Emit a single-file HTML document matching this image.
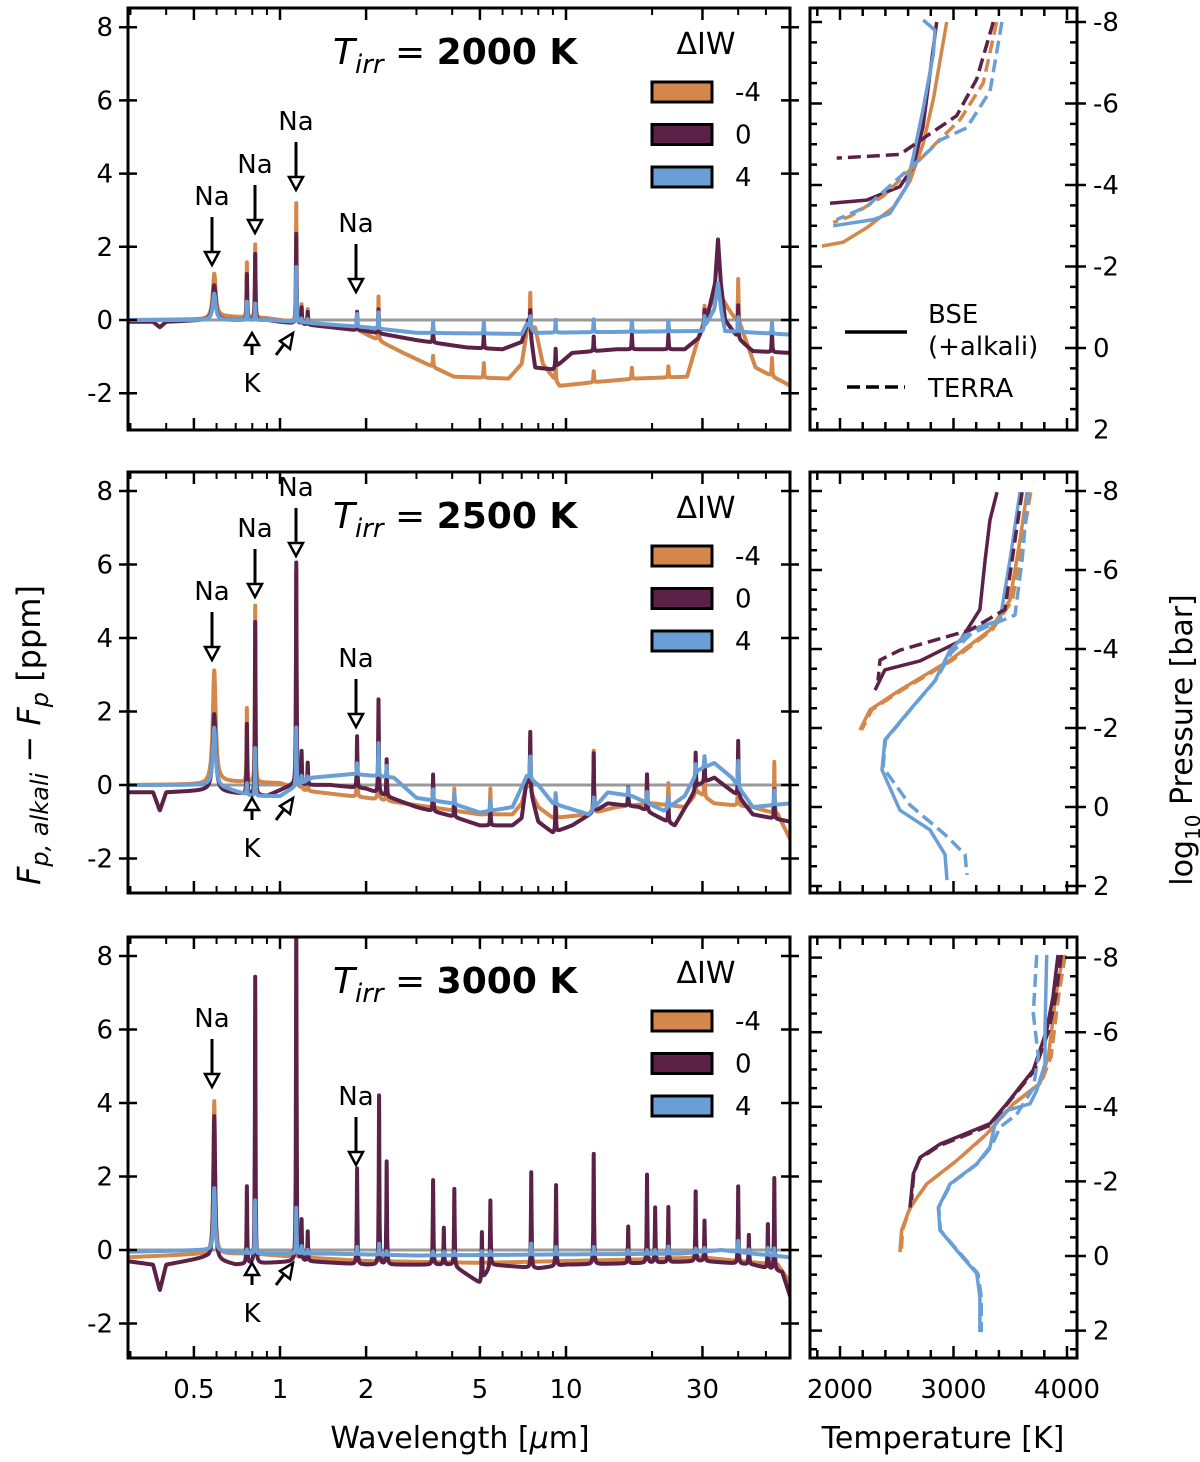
<!DOCTYPE html>
<html><head><meta charset="utf-8">
<style>
html,body{margin:0;padding:0;background:#fff;}
svg{display:block;font-family:"DejaVu Sans","Liberation Sans",sans-serif;}
</style></head>
<body>
<svg id="fig" width="1200" height="1462" viewBox="0 0 1200 1462" xmlns="http://www.w3.org/2000/svg">
<defs>
<clipPath id="cl0"><rect x="128" y="8" width="662" height="422"/></clipPath>
<clipPath id="cl1"><rect x="128" y="472" width="662" height="421"/></clipPath>
<clipPath id="cl2"><rect x="128" y="937" width="662" height="421"/></clipPath>
<clipPath id="cr0"><rect x="810" y="8" width="267" height="422"/></clipPath>
<clipPath id="cr1"><rect x="810" y="472" width="267" height="421"/></clipPath>
<clipPath id="cr2"><rect x="810" y="937" width="267" height="421"/></clipPath>
</defs>
<g id="root"></g>
<text x="460" y="1448" font-size="30" text-anchor="middle">Wavelength [<tspan font-style="italic">μ</tspan>m]</text>
<text x="943" y="1448" font-size="30" text-anchor="middle">Temperature [K]</text>
<text transform="translate(40,735) rotate(-90)" font-size="32" text-anchor="middle"><tspan font-style="italic">F</tspan><tspan font-style="italic" font-size="24" dy="8">p, alkali</tspan><tspan dy="-8"> − </tspan><tspan font-style="italic">F</tspan><tspan font-style="italic" font-size="24" dy="8">p</tspan><tspan dy="-8">  [ppm]</tspan></text>
<text transform="translate(1192,740) rotate(-90)" font-size="30" text-anchor="middle">log<tspan font-size="20" dy="8">10</tspan><tspan dy="-8"> Pressure [bar]</tspan></text>
</svg>
<script>
// ---------------- DATA ----------------
const panelTitles = ["2000 K", "2500 K", "3000 K"];
const legendLevels = ["-4", "0", "4"];
const yTicksL = [-2, 0, 2, 4, 6, 8];
const xTickMajor = [0.5, 1, 2, 5, 10, 30];
const xTickLabels = ["0.5", "1", "2", "5", "10", "30"];
const xTickMinor = [0.3,0.4,0.6,0.7,0.8,0.9,3,4,6,7,8,9,20,40,50];
const pTicks = [-8, -6, -4, -2, 0, 2];
const tTicks = [2000, 3000, 4000];

// Panel 1 (2000 K)
const p1SpikeWl = [0.589,0.766,0.819,1.14,1.19,1.25,1.86,2.21,3.43,5.16,7.5,9.2,12.5,17.0,22.8,30.5,40,52.5];
const p1SpikeOrange = [1.2,1.5,2.0,3.25,0.5,0.4,0.5,1.2,0.3,0.4,1.0,0.4,0.3,0.3,0.3,0.4,1.2,0.5];
const p1SpikePurple = [0.95,1.25,1.8,2.45,0.45,0.35,0.5,0.65,0.4,0.4,0.6,0.5,0.4,0.4,0.4,0.4,0.9,0.6];
const p1SpikeBlue = [0.72,0.5,0.45,1.5,0.1,0.1,0.35,0.45,0.3,0.3,0.3,0.35,0.35,0.3,0.3,0.3,0.4,0.3];
const p1ContOrange = [[0.29,0],[0.55,0.02],[0.62,0.1],[0.9,0.05],[1.0,0],[1.9,-0.3],[2.7,-0.9],[4.06,-1.55],[6.3,-1.6],[7.0,-1.2],[7.3,-0.3],[7.8,-0.2],[8.3,-1.2],[9.5,-1.8],[12.5,-1.7],[17.5,-1.6],[26.5,-1.55],[29,-0.5],[31.5,0.3],[34,0.8],[37,0.3],[41,-0.2],[46,-1.3],[61,-1.8]];
const p1ContPurple = [[0.29,-0.05],[0.36,-0.05],[0.38,-0.2],[0.40,-0.05],[0.55,0],[0.9,0],[1.0,-0.05],[2,-0.3],[3,-0.55],[4.5,-0.75],[6,-0.8],[7.0,-0.6],[7.4,0],[7.8,-1.3],[9,-1.35],[10.5,-0.9],[15,-0.8],[26,-0.8],[29,-0.5],[31,0],[33.2,1.0],[34,2.2],[34.8,1.0],[36,0],[40,-0.5],[45,-0.85],[61,-0.9]];
const p1ContBlue = [[0.29,0],[0.9,0],[1,-0.02],[2,-0.2],[3,-0.35],[7,-0.38],[7.3,-0.1],[7.8,-0.35],[30,-0.3],[33,0.3],[34,1.0],[35,0.2],[36,-0.3],[61,-0.4]];

// Panel 2 (2500 K)
const p2SpikeWl = [0.589,0.766,0.819,1.14,1.19,1.25,1.86,2.21,2.36,3.43,4.07,5.44,7.5,9.2,12.5,16.5,19.2,22.8,28.4,30.5,40,53.5];
const p2SpikeOrange = [3.05,2.0,4.8,5.9,0.7,0.4,1.2,2.4,0.9,0.7,0.6,0.7,1.5,0.6,1.7,0.3,0.8,0.6,0.8,0.7,1.2,1.4];
const p2SpikePurple = [2.1,1.9,4.7,6.05,0.9,0.6,1.4,2.55,1.0,1.0,0.6,0.6,1.6,1.0,1.6,0.5,1.0,0.6,1.0,0.7,1.5,0.8];
const p2SpikeBlue = [1.6,0.3,1.3,1.6,0.2,0.1,0.3,0.9,0.3,0.3,0.3,0.3,0.6,0.3,0.3,0.2,0.3,0.3,0.3,0.3,0.7,0.4];
const p2ContOrange = [[0.29,0],[0.55,0.02],[0.62,0.1],[1.0,0.05],[1.2,-0.15],[2,-0.35],[3,-0.55],[5,-0.8],[6.5,-0.8],[7.0,-0.5],[7.3,0],[8,-0.6],[9,-0.9],[12,-0.8],[15,-0.6],[20,-0.5],[26,-0.6],[29,-0.2],[33,-0.5],[45,-0.6],[55,-0.8],[61,-1.5]];
const p2ContPurple = [[0.29,-0.2],[0.36,-0.2],[0.38,-0.7],[0.40,-0.2],[0.55,-0.15],[0.65,-0.2],[0.9,-0.3],[1.1,0],[1.5,0],[2,-0.1],[3,-0.6],[4,-0.85],[5,-1.1],[6.5,-1.1],[7,-0.9],[7.3,0.2],[8,-1.0],[9,-1.3],[10.5,-1.1],[14,-0.5],[18,-0.6],[24,-1.1],[29,0],[33,0.2],[40,-0.3],[45,-0.8],[61,-1.0]];
const p2ContBlue = [[0.29,0],[0.55,0],[0.65,-0.1],[0.8,-0.3],[1.0,-0.3],[1.1,-0.1],[1.3,0.2],[1.8,0.3],[2.5,0.2],[3,-0.35],[4,-0.5],[5,-0.75],[6.5,-0.6],[7.3,0.25],[8,0],[9,-0.5],[12,-0.8],[14,-0.2],[17,-0.3],[22,-0.7],[26,-0.3],[29,0.4],[33,0.6],[38,0.2],[45,-0.6],[61,-0.5]];

// Panel 3 (3000 K)
const p3SpikeWl = [0.589,0.766,0.819,1.14,1.19,1.25,1.86,2.22,2.36,3.43,3.74,4.07,5.08,5.44,7.56,9.23,12.5,16.5,19.2,20.5,22.8,28.4,30.5,40,43.6,50.8,53.5];
const p3SpikeOrange = [4.15,0.3,0.5,0.5,0.3,0.2,0.2,0.3,0.3,0.2,0.2,0.2,0.2,0.2,0.4,0.3,0.3,0.2,0.3,0.3,0.5,0.3,0.3,0.4,0.3,0.3,0.6];
const p3SpikePurple = [3.9,2.1,7.8,9.5,1.1,0.8,2.6,4.6,2.8,2.3,1.0,2.1,1.3,1.8,2.6,2.2,3.0,1.0,2.4,1.5,1.5,1.9,1.1,2.1,0.8,1.2,2.5];
const p3SpikeBlue = [1.7,0.1,1.45,1.25,0.2,0.1,0.2,0.3,0.1,0.1,0.1,0.1,0.1,0.1,0.3,0.2,0.2,0.1,0.1,0.1,0.2,0.1,0.1,0.3,0.1,0.2,0.2];
const p3ContOrange = [[0.29,-0.2],[0.55,-0.1],[0.8,-0.1],[1.2,-0.2],[2,-0.3],[5,-0.35],[10,-0.3],[20,-0.25],[30,-0.2],[40,-0.3],[55,-0.4],[61,-0.9]];
const p3ContPurple = [[0.29,-0.3],[0.36,-0.4],[0.38,-1.1],[0.40,-0.4],[0.55,-0.2],[0.7,-0.4],[1.2,-0.3],[2,-0.4],[4,-0.4],[5,-0.9],[5.5,-0.4],[8,-0.5],[10,-0.4],[20,-0.35],[30,-0.3],[45,-0.4],[57,-0.6],[61,-1.3]];
const p3ContBlue = [[0.29,-0.05],[0.55,0],[0.8,-0.1],[1.5,-0.1],[3,-0.15],[10,-0.12],[25,-0.1],[35,0],[45,-0.1],[61,-0.2]];

// P-T profiles: [T (K), log10 P (bar)]
const pt1PurpleSolid = [[2852,-8],[2731,-5.43],[2645,-4.45],[2528,-3.96],[2235,-3.63],[1912,-3.55]];
const pt1OrangeSolid = [[2940,-8],[2822,-6.1],[2731,-5.0],[2617,-4.1],[2470,-3.45],[2235,-2.95],[2029,-2.6],[1840,-2.5]];
const pt1BlueSolid = [[2733,-8.05],[2837,-7.8],[2822,-7.2],[2731,-5.85],[2646,-4.7],[2587,-3.96],[2440,-3.3],[2293,-3.15],[1940,-3.0]];
const pt1PurpleDash = [[3351,-8],[3204,-6.6],[3028,-5.7],[2763,-5.2],[2528,-4.75],[1971,-4.66]];
const pt1OrangeDash = [[3381,-8],[3262,-6.5],[3057,-5.6],[2822,-4.96],[2617,-4.37],[2382,-3.73],[2088,-3.23],[1940,-3.08]];
const pt1BlueDash = [[3426,-8],[3322,-6.3],[3116,-5.4],[2881,-5.1],[2731,-4.7],[2528,-4.2],[2235,-3.47],[1971,-3.15]];

const pt2PurpleSolid = [[3383,-7.97],[3322,-7.27],[3278,-6.25],[3233,-5.0],[3057,-4.2],[2705,-3.7],[2396,-3.47],[2308,-2.96]];
const pt2PurpleDash = [[3604,-7.97],[3542,-6.76],[3454,-5.0],[3145,-4.48],[2528,-3.97],[2352,-3.72],[2335,-3.2]];
const pt2OrangeSolid = [[3648,-7.97],[3586,-6.76],[3498,-5.24],[3322,-4.48],[2969,-3.72],[2528,-2.96],[2264,-2.46],[2176,-1.95]];
const pt2OrangeDash = [[3680,-7.97],[3610,-6.76],[3520,-5.24],[3340,-4.48],[2990,-3.72],[2545,-2.96],[2280,-2.46],[2190,-1.95]];
const pt2BlueSolid = [[3586,-7.97],[3498,-6.25],[3410,-4.73],[3145,-4.48],[2969,-3.97],[2837,-3.2],[2617,-2.46],[2396,-1.7],[2370,-0.94],[2528,0.08],[2793,0.58],[2925,1.2],[2943,1.85]];
const pt2BlueDash = [[3656,-7.97],[3604,-6.25],[3542,-4.86],[3160,-4.4],[2980,-3.9],[2840,-3.2],[2620,-2.46],[2400,-1.7],[2380,-1.0],[2617,-0.05],[2925,0.7],[3101,1.2],[3119,1.72]];

const pt3PurpleSolid = [[3921,-8.07],[3877,-6.95],[3821,-6.05],[3702,-4.98],[3469,-4.08],[3322,-3.55],[2881,-3.0],[2705,-2.64],[2646,-2.2],[2617,-1.3]];
const pt3PurpleDash = [[3950,-8.07],[3900,-6.95],[3840,-6.05],[3715,-4.98],[3475,-4.08],[3320,-3.5],[2870,-2.95],[2700,-2.6],[2650,-2.2],[2630,-1.5]];
const pt3OrangeSolid = [[3965,-8.07],[3900,-6.95],[3836,-5.35],[3762,-4.63],[3527,-4.08],[3292,-3.27],[3028,-2.56],[2763,-1.93],[2617,-1.3],[2543,-0.69],[2528,-0.1]];
const pt3OrangeDash = [[3985,-8.07],[3925,-6.95],[3860,-5.35],[3770,-4.63],[3530,-4.08],[3295,-3.27],[3030,-2.56],[2765,-1.93],[2620,-1.3],[2550,-0.69],[2540,-0.1]];
const pt3BlueSolid = [[3821,-8.07],[3806,-6.05],[3806,-5.15],[3733,-4.44],[3674,-4.08],[3469,-3.9],[3366,-3.55],[3322,-2.92],[3204,-2.47],[2969,-1.93],[2866,-1.3],[2881,-0.69],[3028,-0.15],[3204,0.47],[3233,1.1],[3233,2.04]];
const pt3BlueDash = [[3733,-8.07],[3703,-6.5],[3747,-5.35],[3703,-4.5],[3557,-3.8],[3410,-3.45],[3330,-2.92],[3210,-2.47],[2975,-1.93],[2870,-1.3],[2885,-0.69],[3035,-0.15],[3215,0.47],[3245,1.1],[3245,2.04]];

// ---------------- DRAWING ----------------
const NS = "http://www.w3.org/2000/svg";
const root = document.getElementById('root');
const COL = {orange:"#d4874b", purple:"#5b2146", blue:"#6a9fd6"};
const panels = [
  {top:8, bot:430, zeroY:320, unit:36.6, py0:348, pk:40.75, cl:0,
   cont:[p1ContOrange,p1ContPurple,p1ContBlue], sw:p1SpikeWl, sh:[p1SpikeOrange,p1SpikePurple,p1SpikeBlue]},
  {top:472, bot:893, zeroY:785, unit:36.75, py0:807, pk:39.5, cl:1,
   cont:[p2ContOrange,p2ContPurple,p2ContBlue], sw:p2SpikeWl, sh:[p2SpikeOrange,p2SpikePurple,p2SpikeBlue]},
  {top:937, bot:1358, zeroY:1250, unit:36.75, py0:1256, pk:37.3, cl:2,
   cont:[p3ContOrange,p3ContPurple,p3ContBlue], sw:p3SpikeWl, sh:[p3SpikeOrange,p3SpikePurple,p3SpikeBlue]}
];
const ptData = [
  [[pt1OrangeSolid,'orange',0],[pt1PurpleSolid,'purple',0],[pt1BlueSolid,'blue',0],[pt1OrangeDash,'orange',1],[pt1PurpleDash,'purple',1],[pt1BlueDash,'blue',1]],
  [[pt2OrangeSolid,'orange',0],[pt2PurpleSolid,'purple',0],[pt2BlueSolid,'blue',0],[pt2OrangeDash,'orange',1],[pt2PurpleDash,'purple',1],[pt2BlueDash,'blue',1]],
  [[pt3OrangeSolid,'orange',0],[pt3OrangeDash,'orange',1],[pt3PurpleSolid,'purple',0],[pt3PurpleDash,'purple',1],[pt3BlueSolid,'blue',0],[pt3BlueDash,'blue',1]]
];
const LX0 = 128, LX1 = 790, RX0 = 810, RX1 = 1077;
const xL = w => 280 + Math.log10(w) * 286;
const xT = T => 840 + (T - 2000) * 0.1135;

function el(tag, attrs, parent) {
  const e = document.createElementNS(NS, tag);
  for (const k in attrs) e.setAttribute(k, attrs[k]);
  (parent || root).appendChild(e);
  return e;
}
function txt(x, y, s, size, anchor, parent) {
  const t = el('text', {x:x, y:y, 'font-size':size, 'text-anchor':anchor || 'middle'}, parent);
  t.textContent = s;
  return t;
}
function interp(arr, L) {
  if (L <= Math.log10(arr[0][0])) return arr[0][1];
  for (let i = 1; i < arr.length; i++) {
    const a = Math.log10(arr[i-1][0]), b = Math.log10(arr[i][0]);
    if (L <= b) return arr[i-1][1] + (arr[i][1] - arr[i-1][1]) * (L - a) / (b - a);
  }
  return arr[arr.length-1][1];
}

panels.forEach((p, pi) => {
  const g = el('g', {});
  
  
  const yV = v => p.zeroY - v * p.unit;
  const zl = el('line', {x1:LX0, x2:LX1, y1:yV(0), y2:yV(0), stroke:'#999', 'stroke-width':3}, g);
  
  
  const sg = el('g', {'clip-path':'url(#cl'+p.cl+')'}, g);
  const names = ['orange','purple','blue'];
  const Ls = [];
  const L0 = Math.log10(0.29), L1 = Math.log10(61);
  for (let i = 0; i <= 1400; i++) Ls.push(L0 + (L1 - L0) * i / 1400);
  p.sw.forEach(w => { const c = Math.log10(w); Ls.push(c, c - 0.0009, c + 0.0009); });
  Ls.sort((a,b)=>a-b);
  names.forEach((nm, si) => {
    let d = '';
    Ls.forEach((L, i) => {
      let v = interp(p.cont[si], L);
      p.sw.forEach((w, k) => {
        const wd = w < 0.6 ? (pi === 2 ? 0.0035 : 0.006) : 0.0012;
        const u = (L - Math.log10(w)) / wd;
        v += p.sh[si][k] / (1 + u * u);
      });
      d += (i ? 'L' : 'M') + xL(Math.pow(10, L)).toFixed(2) + ' ' + yV(v).toFixed(2);
    });
    const path = el('path', {d:d, fill:'none', stroke:COL[nm], 'stroke-width':4, 'stroke-linejoin':'round'}, sg);
    
    
  });
  const fr = el('rect', {x:LX0, y:p.top, width:LX1-LX0, height:p.bot-p.top, fill:'none', stroke:'#000', 'stroke-width':3}, g);
  
  
  yTicksL.forEach(v => {
    const y = yV(v);
    el('line', {x1:LX0-9, x2:LX0+9, y1:y, y2:y, stroke:'#000', 'stroke-width':2.5}, g);
    el('line', {x1:LX1-9, x2:LX1+9, y1:y, y2:y, stroke:'#000', 'stroke-width':2.5}, g);
    const t = txt(113, y + 9, String(v), 26, 'end', g);
    
    
  });
  xTickMajor.forEach(w => {
    const x = xL(w);
    el('line', {x1:x, x2:x, y1:p.bot, y2:p.bot-12, stroke:'#000', 'stroke-width':2.5}, g);
    el('line', {x1:x, x2:x, y1:p.top, y2:p.top+12, stroke:'#000', 'stroke-width':2.5}, g);
  });
  xTickMinor.forEach(w => {
    const x = xL(w);
    el('line', {x1:x, x2:x, y1:p.bot, y2:p.bot-7, stroke:'#000', 'stroke-width':2}, g);
    el('line', {x1:x, x2:x, y1:p.top, y2:p.top+7, stroke:'#000', 'stroke-width':2}, g);
  });
  const tt = el('text', {x:333, y:p.top+56, 'font-size':36}, g);
  
  
  tt.innerHTML = '<tspan font-style="italic">T</tspan><tspan font-style="italic" font-size="26" dy="9">irr</tspan><tspan dy="-9"> = </tspan><tspan font-weight="bold">' + panelTitles[pi] + '</tspan>';
  const lg = el('g', {}, g);
  
  
  txt(706, p.top+46, 'ΔIW', 30, 'middle', lg);
  names.forEach((nm, k) => {
    const yy = p.top + 74 + k * 42.5;
    const r = el('rect', {x:652, y:yy, width:60, height:20, fill:COL[nm], stroke:'#000', 'stroke-width':3}, lg);
    
    
    const lt = txt(735, yy + 19, legendLevels[k], 26, 'start', lg);
    
    
  });
  const off = p.top - 8;
  function down(x, y1, y2) {
    el('line', {x1:x, x2:x, y1:y1, y2:y2-10, stroke:'#000', 'stroke-width':3}, g);
    el('path', {d:`M${x-7} ${y2-13} L${x+7} ${y2-13} L${x} ${y2} Z`, fill:'#fff', stroke:'#000', 'stroke-width':2.5}, g);
  }
  const naSet = pi === 2 ? [[212, 1017-937+8, 'Na'], [356, 1095-937+8, 'Na']] :
    pi === 0 ? [[212,195,'Na'],[255,163,'Na'],[296,120,'Na'],[356,222,'Na']] :
               [[212,590-464,'Na'],[255,527-464,'Na'],[296,486-464,'Na'],[356,657-464,'Na']];
  naSet.forEach(a => {
    const y = a[1] + off;
    const t = txt(a[0], y + 10, a[2], 26, 'middle', g);
    
    
    down(a[0], y + 22, y + 70);
  });
  const ky = (pi === 0 ? 355 : pi === 1 ? 820 : 1285);
  el('line', {x1:252, x2:252, y1:ky, y2:ky-13, stroke:'#000', 'stroke-width':3}, g);
  el('path', {d:`M${245} ${ky-10} L${259} ${ky-10} L252 ${ky-22} Z`, fill:'#fff', stroke:'#000', 'stroke-width':2.5}, g);
  el('line', {x1:276, x2:285, y1:ky, y2:ky-12, stroke:'#000', 'stroke-width':3}, g);
  el('path', {d:`M${280} ${ky-14} L${290} ${ky-6} L${293} ${ky-22} Z`, fill:'#fff', stroke:'#000', 'stroke-width':2.5}, g);
  const kt = txt(252, ky + 37, 'K', 26, 'middle', g);
  
  

  if (pi === 2) {
    xTickMajor.forEach((w, k) => {
      const t = txt(xL(w), 1398, xTickLabels[k], 26, 'middle', g);
      
      
    });
    tTicks.forEach(T => {
      const t = txt(xT(T), 1398, String(T), 26, 'middle', g);
      
      
    });
  }

  const rg = el('g', {});
  
  
  const yP = P => p.py0 + P * p.pk;
  const cg = el('g', {'clip-path':'url(#cr'+p.cl+')'}, rg);
  ptData[pi].forEach(s => {
    const d = s[0].map((q, i) => (i ? 'L' : 'M') + xT(q[0]).toFixed(1) + ' ' + yP(q[1]).toFixed(1)).join('');
    const attrs = {d:d, fill:'none', stroke:COL[s[1]], 'stroke-width':3.5, 'stroke-linejoin':'round', 'stroke-linecap':'butt'};
    if (s[2]) attrs['stroke-dasharray'] = '13 6';
    const pe = el('path', attrs, cg);
    
    
  });
  const rf = el('rect', {x:RX0, y:p.top, width:RX1-RX0, height:p.bot-p.top, fill:'none', stroke:'#000', 'stroke-width':3}, rg);
  
  
  for (let P = -8.5; P <= 2.5; P += 0.5) {
    const y = yP(P);
    if (y < p.top + 2 || y > p.bot - 2) continue;
    const major = Math.abs(P % 2) < 1e-6;
    el('line', {x1:RX0, x2:RX0 + (major ? 12 : 7), y1:y, y2:y, stroke:'#000', 'stroke-width':2.5}, rg);
    el('line', {x1:RX1 - (major ? 12 : 7), x2:RX1 + (major ? 9 : 0), y1:y, y2:y, stroke:'#000', 'stroke-width':2.5}, rg);
  }
  pTicks.forEach(P => {
    const t = txt(1093, yP(P) + 9, String(P), 26, 'start', rg);
    
    
  });
  for (let T = 1800; T <= 4000; T += 200) {
    const x = xT(T);
    const major = T % 1000 === 0;
    el('line', {x1:x, x2:x, y1:p.bot, y2:p.bot - (major ? 12 : 8), stroke:'#000', 'stroke-width':2.5}, rg);
    el('line', {x1:x, x2:x, y1:p.top, y2:p.top + (major ? 12 : 8), stroke:'#000', 'stroke-width':2.5}, rg);
  }
  if (pi === 0) {
    const lg2 = el('g', {}, rg);
    
    
    el('line', {x1:845, x2:907, y1:332, y2:332, stroke:'#000', 'stroke-width':3.5}, lg2);
    el('line', {x1:847, x2:905, y1:387, y2:387, stroke:'#000', 'stroke-width':3.5, 'stroke-dasharray':'13 6'}, lg2);
    txt(928, 323, 'BSE', 26, 'start', lg2);
    txt(928, 355, '(+alkali)', 26, 'start', lg2);
    txt(928, 397, 'TERRA', 26, 'start', lg2);
  }
});
</script>
</body></html>
